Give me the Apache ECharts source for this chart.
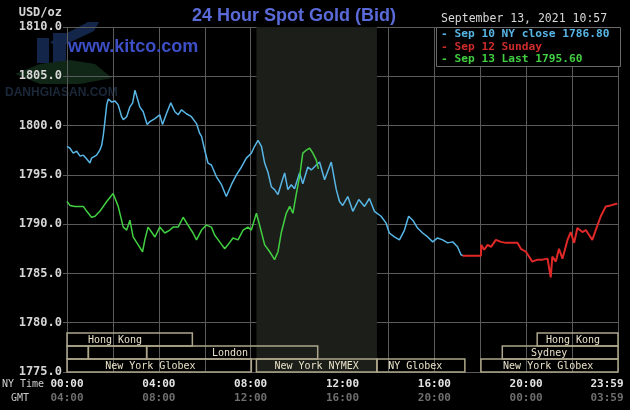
<!DOCTYPE html>
<html>
<head>
<meta charset="utf-8">
<script src="https://cdn.jsdelivr.net/npm/echarts@6/dist/echarts.min.js"></script>
<style>html,body{margin:0;padding:0;background:#000;overflow:hidden;}#c{width:630px;height:410px;}</style>
</head>
<body>
<div id="c"></div>
<script>
// ---------------- DATA ----------------
var sep10Hours = [0,0.13,0.27,0.42,0.57,0.71,0.86,1.0,1.07,1.29,1.43,1.51,1.58,1.65,1.73,1.8,1.94,2.09,2.23,2.38,2.45,2.6,2.74,2.86,2.96,3.06,3.17,3.32,3.49,3.61,3.83,4.04,4.16,4.33,4.52,4.7,4.84,4.99,5.2,5.42,5.64,5.78,5.86,6.0,6.14,6.29,6.51,6.73,6.94,7.16,7.38,7.6,7.81,8.03,8.17,8.32,8.47,8.61,8.75,8.9,9.04,9.19,9.33,9.48,9.62,9.77,9.91,10.13,10.27,10.49,10.64,10.86,11.0,11.22,11.51,11.73,11.87,12.01,12.23,12.45,12.71,12.96,13.17,13.39,13.68,13.9,14.04,14.26,14.48,14.7,14.88,15.06,15.27,15.49,15.71,15.93,16.14,16.36,16.58,16.8,17.01,17.16,17.25];
var sep10Prices = [1797.9,1797.7,1797.2,1797.4,1796.9,1797.0,1796.6,1796.2,1796.7,1797.0,1797.5,1798.0,1799.0,1800.4,1802.1,1802.7,1802.4,1802.5,1802.1,1800.9,1800.6,1800.9,1801.9,1802.3,1803.6,1802.8,1801.9,1801.4,1800.1,1800.4,1800.7,1801.1,1800.1,1801.2,1802.3,1801.4,1801.1,1801.6,1801.2,1800.9,1800.2,1799.2,1798.9,1797.5,1796.2,1796.0,1794.8,1794.0,1792.8,1794.0,1795.0,1795.8,1796.7,1797.2,1797.9,1798.5,1797.9,1796.2,1795.3,1793.8,1793.5,1793.0,1794.1,1795.2,1793.5,1794.0,1793.6,1795.2,1794.1,1795.8,1795.5,1796.0,1796.3,1794.5,1796.3,1793.5,1792.3,1791.9,1792.8,1791.3,1792.5,1791.8,1792.6,1791.3,1790.8,1790.1,1789.1,1788.7,1788.4,1789.4,1790.8,1790.4,1789.6,1789.1,1788.7,1788.2,1788.6,1788.4,1788.1,1788.2,1787.7,1786.9,1786.8];

var sep12Hours = [17.23,18.03,18.04,18.17,18.32,18.47,18.68,18.9,19.12,19.33,19.62,19.77,19.99,20.13,20.27,20.49,20.71,20.93,21.07,21.14,21.29,21.43,21.58,21.8,21.94,22.09,22.23,22.45,22.6,22.74,22.88,23.03,23.25,23.47,23.68,23.97];
var sep12Prices = [1786.8,1786.8,1787.9,1787.4,1787.9,1787.7,1788.4,1788.2,1788.1,1788.1,1788.1,1787.5,1787.2,1786.7,1786.2,1786.4,1786.4,1786.5,1784.6,1786.7,1786.2,1787.5,1786.5,1788.4,1789.2,1788.1,1789.6,1789.2,1789.4,1788.9,1788.4,1789.4,1790.8,1791.8,1791.9,1792.1];

var sep13Hours = [0,0.13,0.35,0.57,0.71,0.86,1.07,1.22,1.43,1.73,2.01,2.09,2.23,2.45,2.6,2.74,2.88,3.1,3.29,3.39,3.53,3.68,3.83,4.04,4.26,4.48,4.62,4.84,5.06,5.27,5.49,5.64,5.86,6.07,6.29,6.43,6.65,6.87,7.01,7.23,7.45,7.67,7.88,8.03,8.25,8.39,8.61,8.83,9.04,9.19,9.33,9.55,9.7,9.84,9.99,10.13,10.27,10.42,10.57,10.71,10.86,10.95];
var sep13Prices = [1792.3,1791.9,1791.8,1791.8,1791.8,1791.3,1790.7,1790.8,1791.3,1792.3,1793.1,1793.2,1791.8,1789.7,1789.4,1790.4,1788.7,1787.9,1787.2,1788.4,1789.7,1789.2,1788.7,1789.7,1789.1,1789.4,1789.7,1789.7,1790.7,1789.9,1789.1,1788.4,1789.4,1789.9,1789.7,1788.9,1788.2,1787.5,1787.9,1788.6,1788.4,1789.4,1789.7,1789.4,1791.1,1789.9,1787.9,1787.2,1786.4,1787.2,1789.1,1791.1,1791.8,1791.1,1793.1,1794.8,1797.2,1797.5,1797.7,1797.2,1796.5,1795.6];

var nyTimeLabels = ['00:00','04:00','08:00','12:00','16:00','20:00','23:59'];
var gmtLabels    = ['04:00','08:00','12:00','16:00','20:00','00:00','03:59'];

var legendTexts = ['- Sep 10 NY close 1786.80', '- Sep 12 Sunday', '- Sep 13 Last 1795.60'];
var headerText = 'September 13, 2021 10:57';

var nymexHours = [8.25, 13.5];

var sessionNames = ['Hong Kong','','','London','New York Globex','New York NYMEX','NY Globex','New York Globex','Sydney','Hong Kong'];
var sessionStart = [0, 0, 0.93, 3.47, 0, 8.25, 13.5, 18.03, 18.96, 20.48];
var sessionEnd   = [5.46, 0.93, 3.47, 10.92, 8.03, 13.5, 17.33, 24, 24, 24];
var sessionRow   = [2, 1, 1, 1, 0, 0, 0, 0, 1, 2];
var sessionLabelAt = [2.09, 0, 0, 7.1, 3.63, 10.87, 15.17, 20.96, 21.0, 22.04];

// ---------------- BUILD ----------------
function zip(a, b) { var r = []; for (var i = 0; i < a.length; i++) r.push([a[i], b[i]]); return r; }
var sessionData = [];
for (var i = 0; i < sessionNames.length; i++) sessionData.push([sessionStart[i], sessionEnd[i], sessionRow[i], sessionLabelAt[i], sessionNames[i]]);

var MONO = "'DejaVu Sans Mono', monospace";
var ROW_H = 13;
var BLUE = '#58b6e6', RED = '#e02828', GREEN = '#42d042';

var chart = echarts.init(document.getElementById('c'), null, {renderer: 'canvas'});
chart.setOption({
  backgroundColor: '#000',
  animation: false,
  grid: {left: 67, right: 12, top: 27, bottom: 38, containLabel: false, outerBoundsMode: 'none'},
  xAxis: {
    type: 'value', min: 0, max: 24, interval: 2,
    axisLine: {show: false}, axisTick: {show: false},
    splitLine: {show: true, lineStyle: {color: '#5a5a5a', width: 1}},
    axisLabel: {
      margin: 5, showMaxLabel: true, showMinLabel: true, hideOverlap: false,
      formatter: function (v) {
        if (v % 4 !== 0) return '';
        var k = v / 4;
        if (k === 6) return '{c|' + nyTimeLabels[k] + '}\n{d|' + gmtLabels[k] + '}';
        return '{a|' + nyTimeLabels[k] + '}\n{b|' + gmtLabels[k] + '}';
      },
      rich: {
        a: {color: '#e4e4e4', fontFamily: MONO, fontWeight: 'bold', fontSize: 11, lineHeight: 14},
        b: {color: '#6e6e6e', fontFamily: MONO, fontWeight: 'bold', fontSize: 11, lineHeight: 14},
        c: {color: '#e4e4e4', fontFamily: MONO, fontWeight: 'bold', fontSize: 11, lineHeight: 14, padding: [0, 22, 0, 0]},
        d: {color: '#6e6e6e', fontFamily: MONO, fontWeight: 'bold', fontSize: 11, lineHeight: 14, padding: [0, 22, 0, 0]}
      }
    }
  },
  yAxis: {
    type: 'value', min: 1775, max: 1810, interval: 5,
    axisLine: {show: false},
    axisTick: {show: true, length: 4, lineStyle: {color: '#5a5a5a'}},
    splitLine: {show: true, lineStyle: {color: '#5a5a5a', width: 1}},
    axisLabel: {
      margin: 5, color: '#d6d6d6', fontFamily: MONO, fontWeight: 'bold', fontSize: 12,
      formatter: function (v) { return v.toFixed(1); }
    }
  },
  series: [
    {
      type: 'line', z: -1, data: [], silent: true,
      markArea: {silent: true, itemStyle: {color: '#1c1e1a'}, data: [[{xAxis: nymexHours[0]}, {xAxis: nymexHours[1]}]]}
    },
    {
      type: 'custom', z: 3, silent: true,
      data: sessionData,
      encode: {x: [0, 1]},
      renderItem: function (params, api) {
        var s = api.value(0), e = api.value(1), row = api.value(2), at = api.value(3);
        var name = sessionData[params.dataIndex][4];
        var p0 = api.coord([s, 1775]), p1 = api.coord([e, 1775]);
        var bottom = p0[1] - row * ROW_H;
        var children = [{
          type: 'rect',
          shape: {x: p0[0], y: bottom - ROW_H, width: p1[0] - p0[0], height: ROW_H},
          style: {fill: null, stroke: '#ada68a', lineWidth: 1.5}
        }];
        if (name) {
          children.push({
            type: 'text',
            style: {x: api.coord([at, 1775])[0], y: bottom - ROW_H / 2 + 0.5, text: name, fill: '#e8e1c8',
              font: '10px ' + MONO, align: 'center', verticalAlign: 'middle'}
          });
        }
        return {type: 'group', children: children};
      }
    },
    {type: 'line', name: 'Sep 10', data: zip(sep10Hours, sep10Prices), showSymbol: false, z: 4,
      lineStyle: {color: BLUE, width: 1.5}},
    {type: 'line', name: 'Sep 12', data: zip(sep12Hours, sep12Prices), showSymbol: false, z: 4,
      lineStyle: {color: RED, width: 2}},
    {type: 'line', name: 'Sep 13', data: zip(sep13Hours, sep13Prices), showSymbol: false, z: 5,
      lineStyle: {color: GREEN, width: 1.5}}
  ],
  graphic: [
    // faint site logo
    {type: 'group', z: -10, children: [
      {type: 'rect', shape: {x: 37, y: 38, width: 12, height: 25}, style: {fill: '#13264a'}},
      {type: 'rect', shape: {x: 53, y: 33, width: 13, height: 30}, style: {fill: '#13264a'}},
      {type: 'polygon', shape: {points: [[50, 42], [88, 22], [99, 22], [94, 31], [58, 48]]}, style: {fill: '#13264a'}},
      {type: 'polygon', shape: {points: [[15, 74], [40, 64], [70, 60], [95, 64], [112, 78], [80, 84], [40, 84]]}, style: {fill: '#102617'}},
      {type: 'text', x: 5, y: 87, style: {text: 'DANHGIASAN.COM', fill: '#1a283a', font: 'bold 12px ' + "'Liberation Sans Narrow', 'Liberation Sans', sans-serif"}}
    ]},
    {type: 'text', x: 68, y: 38, z: 2, style: {text: 'www.kitco.com', fill: '#3c4fc6', font: 'bold 18px ' + "'Liberation Sans', Arial, sans-serif"}},
    // title
    {type: 'text', x: 294, y: 16, z: 10, style: {text: '24 Hour Spot Gold (Bid)', fill: '#5a6ad8', font: 'bold 18px ' + "'Liberation Sans', Arial, sans-serif", align: 'center', verticalAlign: 'middle'}},
    {type: 'text', x: 62, y: 13, z: 10, style: {text: 'USD/oz', fill: '#d6d6d6', font: 'bold 12px ' + MONO, align: 'right', verticalAlign: 'middle'}},
    {type: 'text', x: 2, y: 384, z: 10, style: {text: 'NY Time', fill: '#d0d0d0', font: '10px ' + MONO, verticalAlign: 'middle'}},
    {type: 'text', x: 11, y: 398, z: 10, style: {text: 'GMT', fill: '#c8c8c8', font: '10px ' + MONO, verticalAlign: 'middle'}},
    // legend block
    {type: 'text', x: 441, y: 19, z: 10, style: {text: headerText, fill: '#d8d8d8', font: '11.5px ' + MONO, verticalAlign: 'middle'}},
    {type: 'rect', z: 10, shape: {x: 436.5, y: 27.5, width: 184, height: 39}, style: {fill: '#000', stroke: '#6a6a6a', lineWidth: 1}},
    {type: 'text', x: 441, y: 34.5, z: 11, style: {text: legendTexts[0], fill: BLUE, font: 'bold 11.2px ' + MONO, verticalAlign: 'middle'}},
    {type: 'text', x: 441, y: 47, z: 11, style: {text: legendTexts[1], fill: '#d02c2c', font: 'bold 11.2px ' + MONO, verticalAlign: 'middle'}},
    {type: 'text', x: 441, y: 59.5, z: 11, style: {text: legendTexts[2], fill: GREEN, font: 'bold 11.2px ' + MONO, verticalAlign: 'middle'}}
  ]
});
</script>
</body>
</html>
